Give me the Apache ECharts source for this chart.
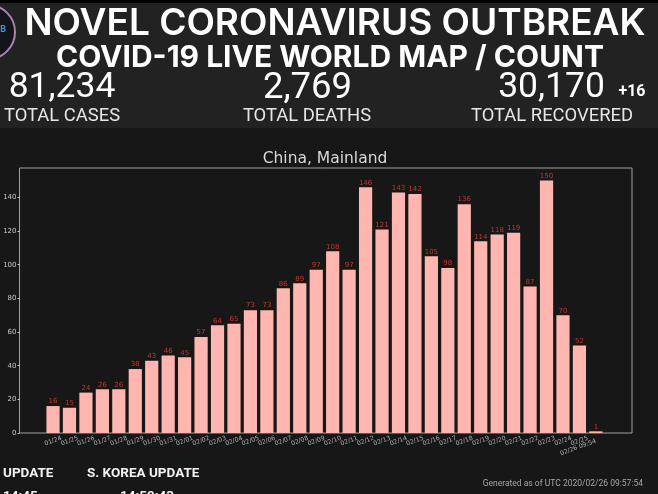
<!DOCTYPE html>
<html>
<head>
<meta charset="utf-8">
<style>
  html, body { margin: 0; padding: 0; background: #171717; }
  #chart { width: 658px; height: 494px; }
</style>
<script src="https://cdn.jsdelivr.net/npm/echarts@6/dist/echarts.min.js"></script>
</head>
<body>
<div id="chart"></div>
<script>
const categories = ["01/24", "01/25", "01/26", "01/27", "01/28", "01/29", "01/30", "01/31",
  "02/01", "02/02", "02/03", "02/04", "02/05", "02/06", "02/07", "02/08", "02/09", "02/10",
  "02/11", "02/12", "02/13", "02/14", "02/15", "02/16", "02/17", "02/18", "02/19", "02/20",
  "02/21", "02/22", "02/23", "02/24", "02/25", "02/26 09:54"];
const newCases = [16, 15, 24, 26, 26, 38, 43, 46, 45, 57, 64, 65, 73, 73, 86, 89, 97, 108,
  97, 146, 121, 143, 142, 105, 98, 136, 114, 118, 119, 87, 150, 70, 52, 1];
const yTicks = [0, 20, 40, 60, 80, 100, 120, 140];
const yMax = 157.5;

const chartTitle = "China, Mainland";

// header and footer text, [text, x, y, size, weight, colour, align, font]
const headerTexts = [
  ["NOVEL CORONAVIRUS OUTBREAK", 335, 24, 37, 600, "#ffffff", "center", "Inter"],
  ["COVID-19 LIVE WORLD MAP / COUNT", 330, 58, 30, 700, "#ffffff", "center", "Inter"],
  ["81,234", 62, 88.5, 35.5, 400, "#ffffff", "center", "Roboto"],
  ["2,769", 307.5, 88.5, 36.5, 400, "#ffffff", "center", "Roboto"],
  ["30,170", 551.5, 88.5, 35.5, 400, "#ffffff", "center", "Roboto"],
  ["+16", 632, 92, 16, 700, "#ffffff", "center", "Roboto"],
  ["TOTAL CASES", 62, 116.5, 18.4, 400, "#e6e6e6", "center", "Roboto"],
  ["TOTAL DEATHS", 307, 116.5, 18.4, 400, "#e6e6e6", "center", "Roboto"],
  ["TOTAL RECOVERED", 552, 116.5, 18.4, 400, "#e6e6e6", "center", "Roboto"],
  ["UPDATE", 3, 474, 13.5, 700, "#f2f2f2", "left", "Roboto"],
  ["S. KOREA UPDATE", 87, 474, 13.5, 700, "#f2f2f2", "left", "Roboto"],
  ["14:45", 3, 497, 13.5, 700, "#f2f2f2", "left", "Roboto"],
  ["14:59:43", 120, 497, 13.5, 700, "#f2f2f2", "left", "Roboto"],
  ["Generated as of UTC 2020/02/26 09:57:54", 643, 484, 8.5, 400, "#a6a6a6", "right", "Roboto"]
];

const myChart = echarts.init(document.getElementById("chart"));

const textElements = headerTexts.map(function (t) {
  return {
    type: "text",
    x: t[1],
    y: t[2],
    style: {
      text: t[0],
      fontFamily: t[7],
      fontSize: t[3],
      fontWeight: t[4],
      fill: t[5],
      align: t[6],
      verticalAlign: "middle"
    }
  };
});

// the last label is longer and hangs lower than the others
const categoryData = categories.map(function (c, i) {
  return i === categories.length - 1 ? { value: c, textStyle: { padding: [5, 0, 0, 12] } } : c;
});

const option = {
  backgroundColor: "#171717",
  animation: false,
  title: {
    text: chartTitle,
    left: 325,
    top: 151,
    padding: 0,
    textAlign: "center",
    textStyle: { color: "#d9d9d9", fontFamily: "DejaVu Sans", fontSize: 15.5, fontWeight: "normal" }
  },
  // first grid is only the frame and the y axis, bars sit in the second one
  grid: [
    { left: 19.5, right: 26, top: 168, height: 265, show: true, borderColor: "#a0a0a0", borderWidth: 1, backgroundColor: "transparent" },
    { left: 44.8, width: 559.3, top: 168, height: 265 }
  ],
  xAxis: [
    { gridIndex: 0, type: "value", min: 0, max: 1, show: false },
    {
      gridIndex: 1,
      type: "category",
      data: categoryData,
      axisLine: { show: false },
      axisTick: { alignWithLabel: true, length: 2, lineStyle: { color: "#c8c8c8" } },
      axisLabel: {
        interval: 0,
        hideOverlap: false,
        rotate: 20,
        align: "center",
        margin: 8,
        color: "#b0b0b0",
        fontFamily: "DejaVu Sans",
        fontSize: 6.2
      }
    }
  ],
  yAxis: [
    {
      gridIndex: 0,
      type: "value",
      min: 0,
      max: yMax,
      splitLine: { show: false },
      axisLine: { show: false },
      axisTick: { show: true, length: 2, customValues: yTicks, lineStyle: { color: "#c8c8c8" } },
      axisLabel: {
        margin: 3,
        customValues: yTicks,
        color: "#c8c8c8",
        fontFamily: "DejaVu Sans",
        fontSize: 7
      }
    },
    { gridIndex: 1, type: "value", min: 0, max: yMax, show: false, splitLine: { show: false } }
  ],
  series: [
    {
      type: "bar",
      xAxisIndex: 1,
      yAxisIndex: 1,
      data: newCases,
      barWidth: 13.2,
      itemStyle: { color: "#ffb6b1" },
      label: {
        show: true,
        position: "top",
        distance: 1,
        color: "#c0392b",
        fontFamily: "DejaVu Sans",
        fontSize: 7
      }
    }
  ],
  graphic: {
    elements: [
      { type: "rect", silent: true, z: -1, shape: { x: 0, y: 0, width: 658, height: 128 }, style: { fill: "#222222" } },
      { type: "rect", silent: true, z: -1, shape: { x: 0, y: 0, width: 658, height: 3 }, style: { fill: "#000000" } },
      { type: "circle", silent: true, shape: { cx: -12, cy: 32, r: 27 }, style: { fill: "#15131a", stroke: "#a884b8", lineWidth: 2 } },
      { type: "text", x: 3, y: 30, style: { text: "B", fontFamily: "Roboto", fontSize: 9, fontWeight: 700, fill: "#3a9ad9", align: "center", verticalAlign: "middle" } }
    ].concat(textElements)
  }
};

myChart.setOption(option);
</script>
</body>
</html>
